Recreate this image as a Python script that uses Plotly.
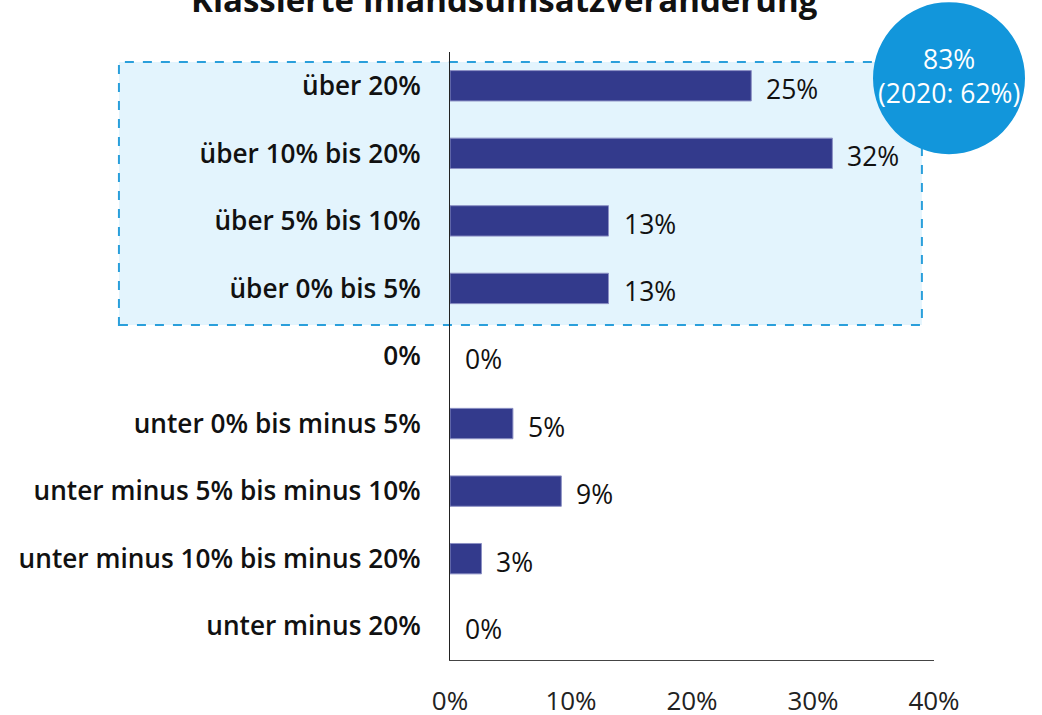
import plotly.graph_objects as go

title_text = "Klassierte Inlandsumsatzveränderung"
categories = [
    "über 20%",
    "über 10% bis 20%",
    "über 5% bis 10%",
    "über 0% bis 5%",
    "0%",
    "unter 0% bis minus 5%",
    "unter minus 5% bis minus 10%",
    "unter minus 10% bis minus 20%",
    "unter minus 20%",
]
values = [24.9, 31.6, 13.1, 13.1, 0.0, 5.2, 9.2, 2.6, 0.0]
labels = ["25%", "32%", "13%", "13%", "0%", "5%", "9%", "3%", "0%"]
x_ticks = [0, 10, 20, 30, 40]
x_ticktext = ["0%", "10%", "20%", "30%", "40%"]
circle_lines = ["83%", "(2020: 62%)"]

FONT = "Open Sans"
BAR = "#333a8c"

fig = go.Figure()
fig.add_trace(go.Bar(
    x=values, y=categories, orientation="h",
    width=0.45,
    marker=dict(color=BAR,
                line=dict(color="#8c90c4", width=[1 if v > 0 else 0 for v in values])),
    hoverinfo="skip",
))

for c, v, t in zip(categories, values, labels):
    fig.add_annotation(x=v, y=c, xref="x", yref="y", text=t, showarrow=False,
                       xanchor="left", yanchor="middle", xshift=13, yshift=-3,
                       font=dict(family=FONT, size=26.5, color="#111111", weight=500))

# highlight box (positive changes)
fig.add_shape(type="rect", xref="paper", yref="paper",
              x0=-0.684, x1=0.975, y0=0.551, y1=0.9836,
              fillcolor="#e3f4fd", line=dict(color="#2a9fdb", width=2, dash="dash"),
              layer="below")

# circle badge
cx, cy = 1.031, 0.957
fig.add_shape(type="circle", xref="paper", yref="paper",
              xsizemode="pixel", ysizemode="pixel",
              xanchor=cx, yanchor=cy, x0=-76, x1=76, y0=-76, y1=76,
              fillcolor="#1296db", line=dict(width=0), layer="above")
fig.add_annotation(x=cx, y=cy, xref="paper", yref="paper",
                   text="<br>".join(circle_lines), showarrow=False,
                   xanchor="center", yanchor="middle", yshift=2,
                   font=dict(family=FONT, size=26.5, color="white"))

# title (partly cut at the top)
fig.add_annotation(x=0.1136, y=1.046, xref="paper", yref="paper",
                   text="<b>" + title_text + "</b>", showarrow=False,
                   xanchor="center", yanchor="bottom",
                   font=dict(family=FONT, size=33, color="#111111"))

fig.update_layout(
    width=1042, height=715,
    margin=dict(l=450, r=108, t=52, b=55, autoexpand=False),
    paper_bgcolor="white", plot_bgcolor="rgba(0,0,0,0)",
    showlegend=False,
    bargap=0.55,
    xaxis=dict(range=[0, 40], tickvals=x_ticks, ticktext=x_ticktext,
               showgrid=False, zeroline=False, showline=True,
               linecolor="#444444", linewidth=1, ticks="",
               ticklabelstandoff=18, automargin=False,
               tickfont=dict(family=FONT, size=26, color="#222222")),
    yaxis=dict(categoryorder="array", categoryarray=categories,
               autorange="reversed", showgrid=False, zeroline=False,
               showline=True, linecolor="#222222", linewidth=1, ticks="",
               ticklabelstandoff=23, automargin=False,
               tickfont=dict(family=FONT, size=26.2, color="#111111", weight=600)),
)

fig.write_html("out.html")
